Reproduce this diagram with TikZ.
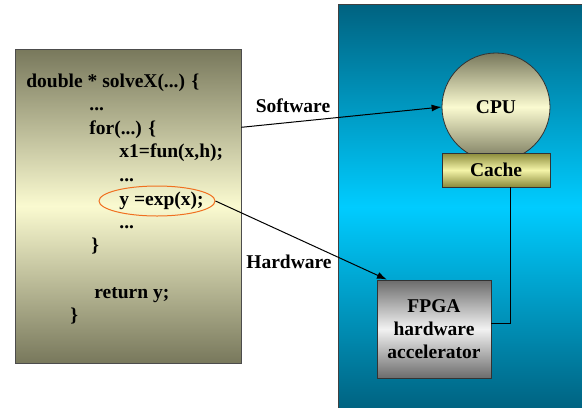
\documentclass[tikz,border=0pt]{standalone}
\usepackage{fontspec}
\setmainfont{Liberation Serif}
\usetikzlibrary{calc,arrows.meta,shapes.geometric}

\definecolor{olivedark}{RGB}{120,120,92}
\definecolor{olivelight}{RGB}{250,250,208}
\definecolor{tealdark}{RGB}{0,98,128}
\definecolor{cyanlight}{RGB}{0,204,255}
\definecolor{cachedark}{RGB}{138,138,58}
\definecolor{cachelight}{RGB}{244,244,168}
\definecolor{greydark}{RGB}{108,108,108}
\definecolor{greylight}{RGB}{242,242,242}
\definecolor{markorange}{RGB}{240,112,32}

\newcommand{\codefont}{\fontsize{9.75}{11.7}\selectfont\bfseries}

\tikzset{
	code/.style={anchor=base west, inner sep=0pt, font=\codefont},
	lbl/.style={anchor=base, inner sep=0pt, font=\codefont},
	link/.style={line width=0.5pt, -{Latex[length=5pt,width=3.5pt]}},
}

\begin{document}
\begin{tikzpicture}[x=0.5pt, y=-0.5pt]
			%%%%% START %%%%%
			\useasboundingbox (0,0) rectangle (582,407);
			
			% board with the processor side
			\draw[black!75, top color=tealdark, bottom color=tealdark, middle color=cyanlight] (338,4) rectangle (582,410);
			
			% source listing
			\node[draw=black!70, rectangle, inner sep=0pt, minimum width=113pt, minimum height=157pt,
				top color=olivedark, bottom color=olivedark, middle color=olivelight] (code) at (128,206) {};
			
			\node[code] (l1) at (26,87) {double * solveX(...) \{};
			\node[code] (l2) at (89,110) {...};
			\node[code] (l3) at (89,134) {for(...) \{};
			\node[code] (l4) at (119,157) {x1=fun(x,h);};
			\node[code] (l5) at (119,181) {...};
			\node[code] (l6) at (119,205) {y =exp(x);};
			\node[code] (l7) at (119,228) {...};
			\node[code] (l8) at (91,251) {\}};
			\node[code] (l9) at (94,298) {return y;};
			\node[code] (l10) at (70,321) {\}};
			
			\node[draw=markorange, line width=0.5pt, ellipse, inner sep=0pt, minimum width=58pt, minimum height=15pt] (hot) at (157,201) {};
			
			% processor and cache
			\node[draw=black!80, circle, inner sep=0pt, minimum size=54pt, font=\codefont,
				top color=olivedark, bottom color=olivedark, middle color=olivelight] (cpu) at (496,107) {CPU};
			\node[draw=black!80, rectangle, inner sep=0pt, minimum width=54pt, minimum height=17pt, font=\codefont,
				top color=cachedark, bottom color=cachedark, middle color=cachelight] (cache) at (496,170) {Cache};
			
			% accelerator
			\node[draw=black!80, rectangle, inner sep=0pt, minimum width=57pt, minimum height=49pt, align=center,
				font=\fontsize{9.75}{11.6}\selectfont\bfseries,
				top color=greydark, bottom color=greydark, middle color=greylight] (fpga) at (434,329) {FPGA\\hardware\\accelerator};
			
			% connections
			\draw[link] ($(code.north east)!0.25!(code.south east)$) -- (cpu.west);
			\draw[link] (hot.east) -- ($(fpga.north west)!0.09!(fpga.north east)$);
			\draw[line width=0.5pt] ($(cache.south)+(14,0)$) |- ($(fpga.east)+(0,-6)$);
			
			\node[lbl] (sw) at (293,112) {Software};
			\node[lbl] (hw) at (289,268) {Hardware};
			%%%%% END %%%%%
\end{tikzpicture}
\end{document}
